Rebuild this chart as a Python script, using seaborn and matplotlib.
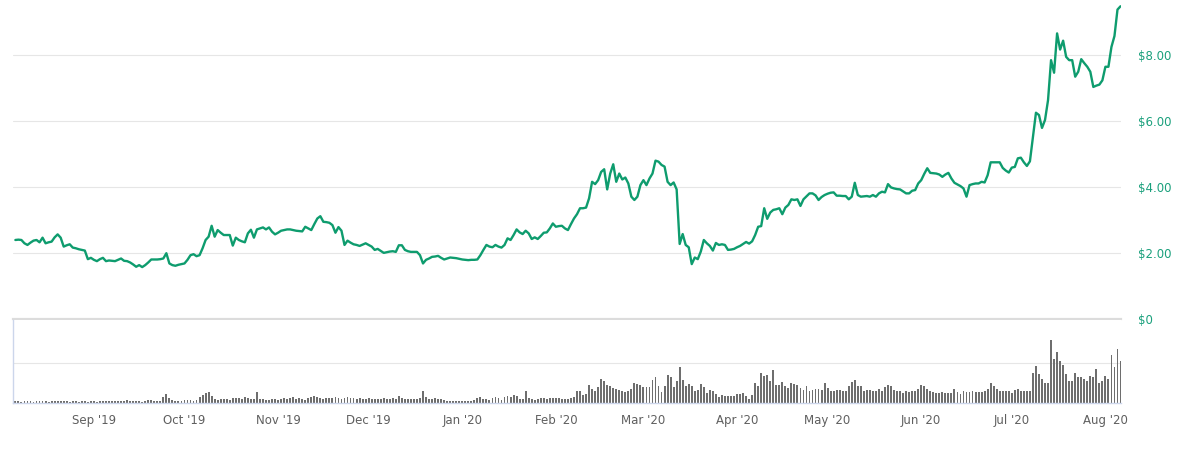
import numpy as np
import pandas as pd
import seaborn as sns
import matplotlib.pyplot as plt
import matplotlib.dates as mdates

# daily close price (USD), 2019-08-06 .. 2020-08-06
price = [
    2.40, 2.41, 2.40, 2.30, 2.25, 2.32, 2.38, 2.40, 2.33, 2.47,
    2.30, 2.33, 2.35, 2.48, 2.57, 2.47, 2.20, 2.24, 2.27, 2.17,
    2.15, 2.12, 2.10, 2.08, 1.82, 1.86, 1.80, 1.76, 1.82, 1.86,
    1.76, 1.78, 1.77, 1.76, 1.80, 1.84, 1.77, 1.76, 1.72, 1.66,
    1.59, 1.64, 1.58, 1.64, 1.72, 1.81, 1.81, 1.81, 1.82, 1.84,
    2.00, 1.69, 1.64, 1.62, 1.65, 1.67, 1.69, 1.80, 1.94, 1.97,
    1.91, 1.94, 2.15, 2.40, 2.50, 2.83, 2.50, 2.70, 2.62, 2.55,
    2.55, 2.55, 2.23, 2.47, 2.40, 2.36, 2.33, 2.60, 2.71, 2.47,
    2.72, 2.75, 2.78, 2.72, 2.78, 2.65, 2.57, 2.62, 2.68, 2.70,
    2.72, 2.72, 2.70, 2.68, 2.67, 2.66, 2.80, 2.75, 2.70, 2.88,
    3.05, 3.12, 2.95, 2.94, 2.92, 2.85, 2.62, 2.79, 2.68, 2.25,
    2.38, 2.32, 2.27, 2.25, 2.22, 2.26, 2.30, 2.25, 2.20, 2.10,
    2.13, 2.07, 2.01, 2.03, 2.05, 2.06, 2.04, 2.24, 2.24, 2.10,
    2.06, 2.04, 2.04, 2.04, 1.94, 1.69, 1.80, 1.84, 1.89, 1.90,
    1.92, 1.86, 1.81, 1.84, 1.87, 1.86, 1.85, 1.83, 1.81, 1.80,
    1.79, 1.80, 1.80, 1.81, 1.94, 2.10, 2.25, 2.20, 2.18, 2.25,
    2.20, 2.17, 2.25, 2.45, 2.40, 2.55, 2.72, 2.63, 2.58, 2.68,
    2.60, 2.43, 2.48, 2.43, 2.52, 2.62, 2.63, 2.75, 2.90, 2.80,
    2.82, 2.83, 2.75, 2.70, 2.88, 3.05, 3.18, 3.36, 3.36, 3.38,
    3.66, 4.16, 4.09, 4.21, 4.46, 4.54, 3.93, 4.41, 4.69, 4.16,
    4.41, 4.23, 4.29, 4.11, 3.71, 3.61, 3.71, 4.06, 4.21, 4.06,
    4.26, 4.41, 4.80, 4.77, 4.67, 4.62, 4.16, 4.06, 4.14, 3.93,
    2.28, 2.58, 2.25, 2.18, 1.67, 1.87, 1.82, 2.05, 2.40, 2.30,
    2.22, 2.08, 2.31, 2.25, 2.27, 2.25, 2.10, 2.11, 2.13, 2.18,
    2.22, 2.28, 2.34, 2.29, 2.36, 2.55, 2.80, 2.82, 3.36, 3.04,
    3.23, 3.31, 3.33, 3.36, 3.18, 3.38, 3.46, 3.63, 3.61, 3.63,
    3.43, 3.63, 3.72, 3.81, 3.81, 3.75, 3.61, 3.70, 3.76, 3.80,
    3.83, 3.84, 3.74, 3.74, 3.73, 3.73, 3.63, 3.71, 4.13, 3.76,
    3.71, 3.72, 3.73, 3.71, 3.76, 3.71, 3.81, 3.86, 3.84, 4.09,
    3.99, 3.96, 3.94, 3.93, 3.87, 3.81, 3.81, 3.89, 3.91, 4.11,
    4.21, 4.40, 4.57, 4.43, 4.42, 4.41, 4.38, 4.31, 4.38, 4.43,
    4.26, 4.13, 4.08, 4.03, 3.96, 3.71, 4.06, 4.09, 4.11, 4.11,
    4.16, 4.14, 4.36, 4.75, 4.75, 4.75, 4.75, 4.58, 4.50, 4.44,
    4.59, 4.61, 4.87, 4.89, 4.75, 4.64, 4.78, 5.52, 6.25, 6.18,
    5.79, 6.03, 6.63, 7.84, 7.46, 8.65, 8.16, 8.43, 7.94, 7.84,
    7.84, 7.34, 7.49, 7.87, 7.75, 7.64, 7.49, 7.03, 7.07, 7.10,
    7.23, 7.64, 7.64, 8.24, 8.57, 9.37, 9.47,
]

# daily traded volume (arbitrary units, gridline = 100)
volume = [
    4, 5, 3, 4, 6, 5, 3, 4, 6, 5,
    4, 3, 6, 5, 5, 4, 6, 5, 3, 4,
    4, 3, 5, 4, 3, 5, 4, 3, 4, 5,
    4, 6, 5, 5, 4, 6, 5, 7, 5, 4,
    6, 4, 3, 5, 8, 7, 5, 4, 5, 15,
    22, 13, 8, 6, 6, 5, 7, 8, 7, 6,
    8, 14, 21, 24, 27, 17, 10, 8, 9, 11,
    10, 7, 12, 12, 13, 11, 14, 13, 9, 10,
    27, 10, 9, 8, 7, 10, 9, 8, 10, 12,
    9, 12, 14, 11, 12, 10, 7, 12, 14, 17,
    16, 12, 10, 12, 13, 12, 14, 13, 11, 12,
    14, 12, 13, 10, 12, 11, 10, 12, 11, 10,
    11, 9, 12, 11, 10, 12, 10, 17, 13, 11,
    10, 11, 10, 9, 12, 30, 15, 11, 10, 12,
    11, 9, 7, 6, 5, 4, 5, 4, 4, 5,
    4, 6, 8, 12, 14, 11, 9, 8, 13, 14,
    12, 8, 15, 18, 14, 21, 17, 10, 9, 30,
    12, 9, 8, 10, 12, 13, 11, 12, 13, 12,
    12, 11, 10, 10, 12, 14, 30, 30, 21, 22,
    45, 36, 30, 40, 61, 54, 45, 42, 38, 35,
    32, 30, 27, 31, 36, 50, 47, 44, 39, 40,
    39, 58, 64, 42, 27, 42, 69, 66, 39, 56,
    89, 58, 42, 47, 42, 30, 33, 47, 39, 25,
    33, 31, 22, 14, 21, 18, 17, 17, 17, 22,
    22, 25, 17, 10, 21, 50, 42, 75, 67, 69,
    56, 83, 44, 46, 52, 42, 37, 50, 47, 46,
    37, 33, 42, 30, 33, 36, 36, 33, 50, 37,
    30, 31, 33, 33, 30, 30, 42, 52, 58, 42,
    42, 30, 33, 33, 30, 30, 36, 31, 39, 44,
    42, 33, 30, 31, 25, 30, 28, 31, 30, 36,
    46, 42, 36, 31, 28, 25, 25, 27, 25, 25,
    25, 36, 28, 23, 30, 28, 27, 30, 27, 27,
    28, 31, 36, 50, 42, 36, 30, 31, 30, 30,
    25, 33, 36, 30, 30, 31, 30, 75, 92, 72,
    61, 50, 50, 158, 111, 128, 106, 94, 72, 54,
    54, 75, 64, 64, 61, 56, 67, 64, 86, 50,
    54, 67, 61, 120, 89, 135, 106,
]

price_ticks = [0, 2, 4, 6, 8]
price_labels = ["$0", "$2.00", "$4.00", "$6.00", "$8.00"]

start = pd.Timestamp("2019-08-06")
dates = pd.date_range(start, periods=len(price), freq="D")
vol_dates = pd.date_range(start, periods=len(volume), freq="D")
df = pd.DataFrame({"date": dates, "price": price})

sns.set_style("white")
plt.rcParams["font.family"] = ["DejaVu Sans"]

fig = plt.figure(figsize=(11.81, 4.5), dpi=100)
ax = fig.add_axes([0.011, 0.2904, 0.9382, 0.7096])
axv = fig.add_axes([0.011, 0.1044, 0.9382, 0.1844], sharex=ax)

line_green = "#0e9c6e"
label_green = "#1aa07c"
grid_col = "#e6e6e6"
axis_blue = "#ccd6eb"

# price panel
sns.lineplot(data=df, x="date", y="price", ax=ax, color=line_green, linewidth=1.7)
ax.set_ylim(0, 9.66)
ax.set_yticks(price_ticks)
ax.set_yticklabels(price_labels)
ax.yaxis.tick_right()
ax.tick_params(axis="y", length=0, pad=12, labelsize=8.5, labelcolor=label_green)
ax.tick_params(axis="x", which="both", bottom=False, labelbottom=False)
ax.grid(axis="y", color=grid_col, linewidth=0.8)
ax.set_axisbelow(True)
for s in ["top", "left", "right"]:
    ax.spines[s].set_visible(False)
ax.spines["bottom"].set_color("#dcdcdc")
ax.spines["bottom"].set_linewidth(1.6)
ax.set_xlabel("")
ax.set_ylabel("")

# volume panel
axv.bar(vol_dates, volume, width=0.62, color="#6e6e6e", linewidth=0)
axv.set_ylim(0, 207)
axv.set_yticks([100])
axv.tick_params(axis="y", left=False, right=False, labelleft=False)
axv.grid(axis="y", color=grid_col, linewidth=0.8)
axv.set_axisbelow(True)
for s in ["top", "right"]:
    axv.spines[s].set_visible(False)
axv.spines["left"].set_color(axis_blue)
axv.spines["bottom"].set_color(axis_blue)
axv.spines["left"].set_linewidth(1)
axv.spines["bottom"].set_linewidth(1)

axv.xaxis.set_major_locator(mdates.MonthLocator())
axv.xaxis.set_major_formatter(mdates.DateFormatter("%b '%y"))
axv.tick_params(axis="x", length=5, width=1, color=axis_blue, pad=3,
                labelsize=8.5, labelcolor="#5f5f5f")
axv.set_xlim(start - pd.Timedelta(hours=19), start + pd.Timedelta(days=366, hours=4))
axv.set_xlabel("")
axv.set_ylabel("")

fig.savefig("out.png", dpi=100)
